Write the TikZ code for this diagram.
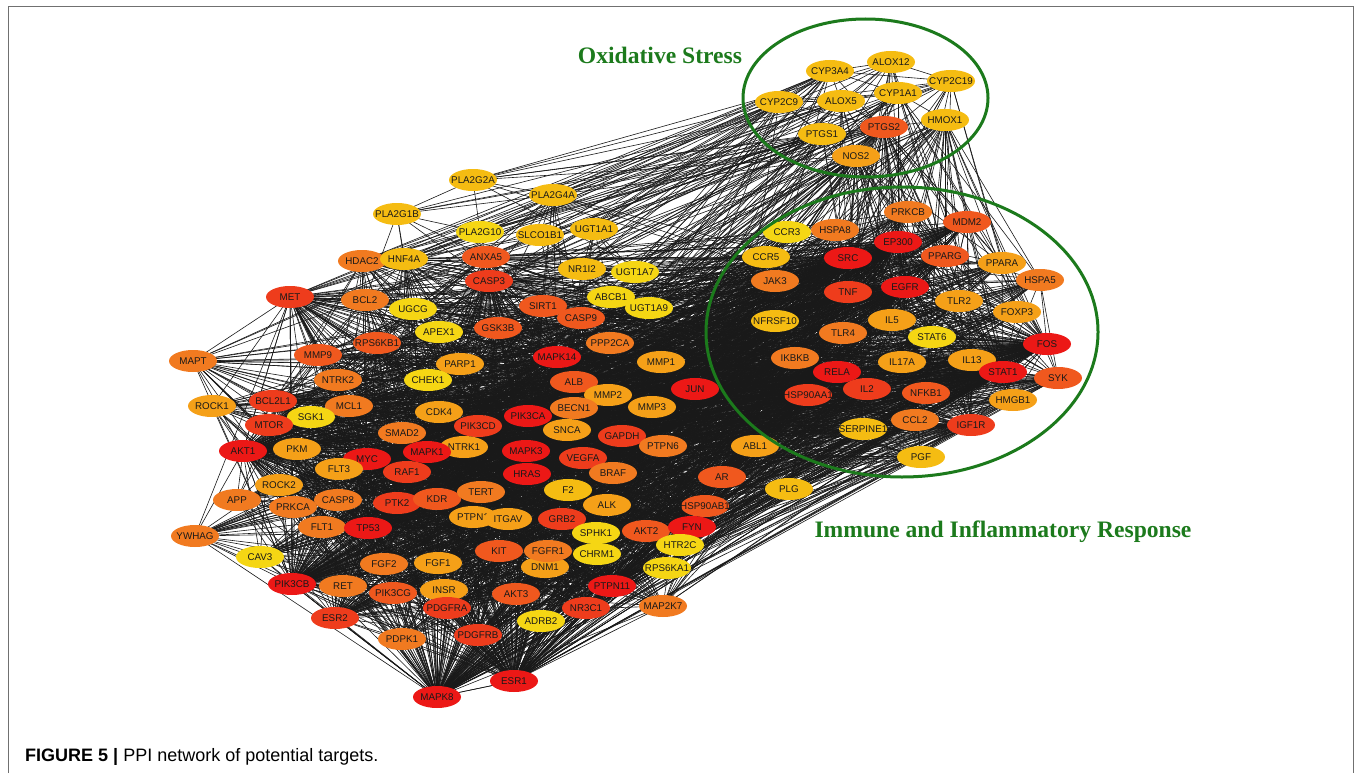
\documentclass[tikz,border=0pt]{standalone}
\usepackage{fontspec}
\setmainfont{Liberation Sans}
\newfontfamily\titlefont{Liberation Serif}
\usetikzlibrary{shapes.geometric}
\pgfdeclarelayer{background}
\pgfsetlayers{background,main}
\definecolor{cA}{RGB}{236,24,22}
\definecolor{cB}{RGB}{238,60,28}
\definecolor{cC}{RGB}{240,88,30}
\definecolor{cD}{RGB}{241,122,32}
\definecolor{cE}{RGB}{245,160,24}
\definecolor{cF}{RGB}{245,188,18}
\definecolor{cG}{RGB}{245,214,20}
\definecolor{grn}{RGB}{28,122,28}
\definecolor{frm}{RGB}{112,112,112}
\newcommand\genenode[3]{\node[gene,fill=#3,label={[gl]center:#1}] (#1) at (#2) {};}
\def\hubs{AKT1,MAPK1,MYC,TP53,MAPK3,HRAS,MAPK14,JUN,PIK3CA,PIK3CB,FYN,PTPN11,ESR1,MAPK8,SRC,EP300,EGFR,FOS,RELA,STAT1}
\def\minihubs{CASP3,MET,BCL2L1,MTOR,PIK3CD,GAPDH,VEGFA,RAF1,PTK2,GRB2,PDGFRA,NR3C1,ESR2,PDGFRB,TNF,IL2,HSP90AA1,IGF1R}
\def\midhubs{ANXA5,GSK3B,RPS6KB1,MMP9,SIRT1,CASP9,ALB,AR,KDR,HSP90AB1,AKT2,KIT,PIK3CG,AKT3,MDM2,PPARG,SYK,NFKB1}
\def\mainlist{HDAC2,HNF4A,ANXA5,CASP3,MET,BCL2,UGCG,SIRT1,APEX1,GSK3B,CASP9,RPS6KB1,PPP2CA,MAPT,MMP9,PARP1,MAPK14,MMP1,NTRK2,CHEK1,ALB,JUN,ROCK1,BCL2L1,SGK1,MCL1,CDK4,MMP2,MMP3,BECN1,MTOR,PIK3CD,PIK3CA,SMAD2,AKT1,PKM,NTRK1,MAPK1,MYC,MAPK3,SNCA,GAPDH,PTPN6,ABL1,VEGFA,FLT3,RAF1,HRAS,BRAF,AR,ROCK2,APP,PRKCA,CASP8,PTK2,KDR,TERT,F2,PLG,ALK,HSP90AB1,YWHAG,FLT1,TP53,PTPN1,ITGAV,GRB2,AKT2,FYN,SPHK1,HTR2C,CAV3,KIT,FGFR1,CHRM1,FGF2,FGF1,DNM1,RPS6KA1,PIK3CB,RET,PIK3CG,INSR,PTPN11,AKT3,PDGFRA,NR3C1,MAP2K7,ESR2,ADRB2,PDPK1,PDGFRB,ESR1,MAPK8,PRKCB,MDM2,CCR3,HSPA8,EP300,CCR5,SRC,PPARG,PPARA,JAK3,TNF,EGFR,HSPA5,TLR2,FOXP3,NFRSF10,IL5,TLR4,STAT6,FOS,IKBKB,IL17A,IL13,RELA,STAT1,SYK,IL2,HSP90AA1,NFKB1,HMGB1,CCL2,SERPINE1,IGF1R,PGF}
\begin{document}
\begin{tikzpicture}[x=1pt,y=-1pt,
  gene/.style={ellipse,minimum width=48pt,minimum height=22pt,inner sep=0pt,draw=none},
  gl/.style={font=\fontsize{9.8}{10}\selectfont,text=black!90,inner sep=0pt},
  edge/.style={draw=black!90,line width=0.6pt},
  group/.style={draw=grn,line width=3pt},
  grouplabel/.style={text=grn,font=\titlefont\bfseries\fontsize{23.6}{24}\selectfont,anchor=base,inner sep=0pt},
  frame/.style={draw=frm,line width=1.6pt}]
\useasboundingbox (0,0) rectangle (1356,773);
\draw[frame] (8.5,773) -- (8.5,6.5) -- (1353.5,6.5) -- (1353.5,773);
% ---------- nodes ----------
% oxidative
\genenode{CYP3A4}{830,71}{cF}
\genenode{ALOX12}{891,62}{cF}
\genenode{CYP2C19}{951,81}{cF}
\genenode{CYP2C9}{779,102}{cF}
\genenode{ALOX5}{841,101}{cF}
\genenode{CYP1A1}{898,93}{cF}
\genenode{HMOX1}{945,120}{cF}
\genenode{PTGS1}{822,134}{cF}
\genenode{PTGS2}{884,127}{cC}
\genenode{NOS2}{856,156}{cE}
% top and left
\genenode{PLA2G2A}{473,180}{cF}
\genenode{PLA2G4A}{553,195}{cF}
\genenode{PLA2G1B}{397,214}{cF}
\genenode{PLA2G10}{480,232}{cG}
\genenode{SLCO1B1}{540,235}{cF}
\genenode{UGT1A1}{594,229}{cF}
\genenode{HDAC2}{362,261}{cD}
\genenode{HNF4A}{404,259}{cF}
\genenode{ANXA5}{486,257}{cC}
\genenode{NR1I2}{582,269}{cF}
\genenode{UGT1A7}{635,272}{cG}
\genenode{CASP3}{489,281}{cB}
\genenode{MET}{290,297}{cB}
\genenode{BCL2}{365,300}{cD}
\genenode{UGCG}{413,309}{cG}
\genenode{ABCB1}{611,297}{cG}
\genenode{UGT1A9}{649,308}{cG}
\genenode{SIRT1}{543,306}{cC}
\genenode{APEX1}{439,332}{cG}
\genenode{GSK3B}{498,328}{cC}
\genenode{CASP9}{581,318}{cC}
\genenode{RPS6KB1}{377,343}{cC}
\genenode{PPP2CA}{610,343}{cD}
\genenode{MAPT}{193,361}{cD}
\genenode{MMP9}{318,355}{cC}
\genenode{PARP1}{460,364}{cE}
\genenode{MAPK14}{557,357}{cA}
\genenode{MMP1}{661,362}{cE}
\genenode{NTRK2}{338,380}{cD}
\genenode{CHEK1}{428,380}{cG}
\genenode{ALB}{574,382}{cC}
\genenode{JUN}{695,389}{cA}
\genenode{ROCK1}{212,406}{cE}
\genenode{BCL2L1}{273,401}{cB}
\genenode{MCL1}{349,406}{cD}
\genenode{SGK1}{311,417}{cG}
\genenode{CDK4}{439,412}{cE}
\genenode{MMP2}{608,395}{cE}
\genenode{MMP3}{652,407}{cE}
\genenode{BECN1}{574,408}{cD}
\genenode{MTOR}{269,425}{cB}
\genenode{PIK3CD}{478,426}{cB}
\genenode{PIK3CA}{528,416}{cA}
\genenode{SMAD2}{402,433}{cD}
\genenode{AKT1}{243,451}{cA}
\genenode{PKM}{297,449}{cE}
\genenode{NTRK1}{464,447}{cE}
\genenode{MAPK1}{427,452}{cA}
\genenode{MYC}{367,459}{cA}
\genenode{MAPK3}{526,451}{cA}
\genenode{SNCA}{567,430}{cE}
\genenode{GAPDH}{622,436}{cB}
\genenode{PTPN6}{663,446}{cD}
\genenode{ABL1}{755,446}{cE}
\genenode{VEGFA}{583,458}{cB}
\genenode{FLT3}{339,469}{cE}
\genenode{RAF1}{407,472}{cB}
\genenode{HRAS}{527,474}{cA}
\genenode{BRAF}{613,473}{cD}
\genenode{AR}{722,477}{cC}
\genenode{ROCK2}{279,485}{cE}
\genenode{APP}{237,500}{cD}
\genenode{PRKCA}{293,507}{cD}
\genenode{CASP8}{338,500}{cD}
\genenode{PTK2}{397,503}{cB}
\genenode{KDR}{437,499}{cC}
\genenode{TERT}{481,492}{cD}
\genenode{F2}{568,490}{cF}
\genenode{PLG}{789,489}{cF}
\genenode{ALK}{607,505}{cE}
\genenode{HSP90AB1}{705,506}{cC}
\genenode{YWHAG}{195,536}{cD}
\genenode{FLT1}{322,527}{cD}
\genenode{TP53}{368,528}{cA}
\genenode{PTPN1}{473,517}{cE}
\genenode{ITGAV}{508,519}{cE}
\genenode{GRB2}{562,519}{cB}
\genenode{AKT2}{646,531}{cC}
\genenode{FYN}{692,527}{cA}
\genenode{SPHK1}{596,533}{cG}
\genenode{HTR2C}{680,545}{cG}
\genenode{CAV3}{260,557}{cG}
\genenode{KIT}{499,551}{cC}
\genenode{DNM1}{545,567}{cE}
\genenode{FGFR1}{548,551}{cD}
\genenode{CHRM1}{597,554}{cG}
\genenode{FGF2}{384,564}{cD}
\genenode{FGF1}{438,563}{cE}
\genenode{RPS6KA1}{667,568}{cG}
\genenode{PIK3CB}{292,584}{cA}
\genenode{RET}{343,586}{cD}
\genenode{PIK3CG}{393,593}{cC}
\genenode{INSR}{444,590}{cE}
\genenode{PTPN11}{612,586}{cA}
\genenode{AKT3}{516,594}{cC}
\genenode{PDGFRA}{447,608}{cB}
\genenode{NR3C1}{586,608}{cB}
\genenode{MAP2K7}{663,606}{cD}
\genenode{ESR2}{335,618}{cB}
\genenode{ADRB2}{541,621}{cG}
\genenode{PDPK1}{402,639}{cD}
\genenode{PDGFRB}{478,635}{cB}
\genenode{ESR1}{514,681}{cA}
\genenode{MAPK8}{437,697}{cA}
% immune
\genenode{PRKCB}{908,212}{cD}
\genenode{MDM2}{967,222}{cC}
\genenode{CCR3}{787,232}{cG}
\genenode{HSPA8}{835,230}{cD}
\genenode{EP300}{898,242}{cA}
\genenode{CCR5}{766,257}{cF}
\genenode{SRC}{848,258}{cA}
\genenode{PPARG}{945,256}{cC}
\genenode{PPARA}{1002,263}{cE}
\genenode{JAK3}{775,281}{cD}
\genenode{TNF}{848,292}{cB}
\genenode{EGFR}{905,287}{cA}
\genenode{HSPA5}{1040,280}{cD}
\genenode{TLR2}{959,301}{cE}
\genenode{FOXP3}{1017,312}{cE}
\genenode{NFRSF10}{775,321}{cF}
\genenode{IL5}{892,320}{cE}
\genenode{TLR4}{843,333}{cD}
\genenode{STAT6}{932,337}{cG}
\genenode{FOS}{1047,344}{cA}
\genenode{IKBKB}{795,358}{cD}
\genenode{IL17A}{902,362}{cE}
\genenode{IL13}{972,360}{cE}
\genenode{RELA}{837,372}{cA}
\genenode{STAT1}{1003,372}{cA}
\genenode{SYK}{1058,378}{cC}
\genenode{IL2}{867,389}{cB}
\genenode{HSP90AA1}{808,395}{cB}
\genenode{NFKB1}{926,393}{cC}
\genenode{HMGB1}{1013,400}{cE}
\genenode{CCL2}{915,420}{cD}
\genenode{SERPINE1}{863,429}{cF}
\genenode{IGF1R}{971,425}{cB}
\genenode{PGF}{921,457}{cF}
% ---------- groups and labels ----------
\draw[group] (865.5,98) ellipse [x radius=122.5pt, y radius=79pt];
\draw[group] (902,332) ellipse [x radius=196pt, y radius=145pt];
\node[grouplabel] (oxlabel) at (660,64) {Oxidative Stress};
\node[grouplabel] (imlabel) at (1003,537) {Immune and Inflammatory Response};
\node[anchor=base west,inner sep=0pt,font=\fontsize{18}{18}\selectfont] (caption) at (25,761.5) {\textbf{FIGURE 5 |} PPI network of potential targets.};
% ---------- edges ----------
\begin{pgfonlayer}{background}
\foreach \a in \hubs {\foreach \b in \mainlist {\draw[edge] (\a.center) -- (\b.center);}}
\foreach \a [count=\i] in \minihubs {\foreach \b [count=\j] in \mainlist {%
  \pgfmathtruncatemacro\r{mod(\i*7+\j*5,3)}\ifnum\r=0 \draw[edge] (\a.center) -- (\b.center);\fi}}
\foreach \a [count=\i] in \midhubs {\foreach \b [count=\j] in \mainlist {%
  \pgfmathtruncatemacro\r{mod(\i*5+\j*7,6)}\ifnum\r=0 \draw[edge] (\a.center) -- (\b.center);\fi}}
\foreach \a/\b in {PLA2G2A/PLA2G1B,PLA2G2A/PLA2G10,PLA2G2A/PLA2G4A,PLA2G2A/PTGS2,PLA2G2A/PTGS1,PLA2G2A/ALOX5,PLA2G2A/ALOX12,PLA2G2A/CYP2C9,PLA2G2A/TNF,PLA2G2A/NOS2,PLA2G2A/IL2,
  PLA2G1B/PLA2G10,PLA2G1B/HNF4A,PLA2G1B/ANXA5,PLA2G1B/PTGS2,PLA2G1B/PTGS1,PLA2G1B/ALOX5,PLA2G1B/PLA2G4A,PLA2G1B/CASP3,PLA2G1B/UGCG,PLA2G1B/BCL2,
  PLA2G10/PLA2G4A,PLA2G10/HNF4A,PLA2G10/PTGS2,PLA2G10/PTGS1,PLA2G10/ALOX5,PLA2G10/ANXA5,
  PLA2G4A/ANXA5,PLA2G4A/MAPK1,PLA2G4A/MAPK3,PLA2G4A/MAPK14,PLA2G4A/PTGS2,PLA2G4A/PTGS1,PLA2G4A/ALOX5,PLA2G4A/ALOX12,PLA2G4A/CASP3,PLA2G4A/NOS2,PLA2G4A/TNF,PLA2G4A/CASP9,PLA2G4A/SIRT1,PLA2G4A/SLCO1B1,PLA2G4A/ALB,PLA2G4A/AKT1,PLA2G4A/EGFR,
  SLCO1B1/UGT1A1,SLCO1B1/ABCB1,SLCO1B1/NR1I2,SLCO1B1/CYP3A4,SLCO1B1/CYP2C9,SLCO1B1/HNF4A,SLCO1B1/ALB,SLCO1B1/UGT1A9,SLCO1B1/CYP2C19,
  UGT1A1/UGT1A7,UGT1A1/UGT1A9,UGT1A1/NR1I2,UGT1A1/ABCB1,UGT1A1/CYP3A4,UGT1A1/CYP2C9,UGT1A1/CYP1A1,UGT1A1/HNF4A,UGT1A1/ALB,UGT1A1/CYP2C19,UGT1A1/ESR1,
  UGT1A7/UGT1A9,UGT1A7/CYP1A1,UGT1A7/CYP3A4,UGT1A7/NR1I2,UGT1A7/HNF4A,UGT1A7/ALB,
  UGT1A9/NR1I2,UGT1A9/CYP3A4,UGT1A9/CYP2C9,UGT1A9/CYP1A1,UGT1A9/ABCB1,UGT1A9/HNF4A,
  NR1I2/ABCB1,NR1I2/CYP3A4,NR1I2/CYP2C9,NR1I2/CYP2C19,NR1I2/CYP1A1,NR1I2/HNF4A,NR1I2/PPARA,NR1I2/PPARG,NR1I2/ALB,NR1I2/ESR1,NR1I2/AR,NR1I2/NR3C1,NR1I2/EP300,
  ABCB1/CYP3A4,ABCB1/CYP2C9,ABCB1/HNF4A,ABCB1/ALB,ABCB1/TP53,ABCB1/AKT1,ABCB1/ESR1,ABCB1/MYC,ABCB1/JUN,ABCB1/EGFR,ABCB1/NR3C1,
  CYP3A4/CYP2C9,CYP3A4/CYP2C19,CYP3A4/CYP1A1,CYP2C9/CYP2C19,CYP2C9/CYP1A1,CYP2C19/CYP1A1,ALOX12/ALOX5,ALOX12/PTGS2,ALOX12/PTGS1,ALOX12/CYP2C19,ALOX12/CYP3A4,
  ALOX5/PTGS2,ALOX5/PTGS1,ALOX5/CYP1A1,ALOX5/NOS2,PTGS1/PTGS2,PTGS2/NOS2,PTGS2/HMOX1,HMOX1/NOS2,CYP1A1/PTGS2,CYP1A1/HMOX1,CYP2C9/PTGS1,CYP2C9/ALOX5,CYP3A4/ALOX5,CYP2C9/PTGS2,CYP2C19/ALOX5,ALOX12/CYP1A1}
  {\draw[edge] (\a.center) -- (\b.center);}
\foreach \b in {AKT1,MAPK1,MAPK3,MAPK14,JUN,TP53,MYC,EGFR,SRC,FOS,RELA,STAT1,EP300,TNF,IL2,NFKB1,PPARG,CASP3,VEGFA,ESR1,MAPK8,HRAS,PIK3CA,IL5,IL13,IL17A,TLR4,TLR2,CCL2,HMGB1,IKBKB,MMP9,MMP2,GAPDH,ALB,HSP90AA1,CASP8,BCL2,MET,HDAC2,SIRT1,PPARA,PGF,SERPINE1,IGF1R,ANXA5,PRKCB,MDM2}
  {\draw[edge] (PTGS2.center) -- (\b.center);}
\foreach \b in {AKT1,MAPK1,MAPK3,MAPK14,JUN,TP53,EGFR,SRC,FOS,RELA,STAT1,TNF,IL2,NFKB1,PPARG,CASP3,VEGFA,ESR1,HSP90AA1,HSP90AB1,ALB,GAPDH,TLR4,TLR2,CCL2,HMGB1,IKBKB,MMP9,IL5,IL13,STAT6,SERPINE1,KDR,CAV3,PKM,SIRT1,JAK3,CCR5}
  {\draw[edge] (NOS2.center) -- (\b.center);}
\foreach \b in {AKT1,MAPK1,MAPK3,MAPK14,JUN,TP53,TNF,IL2,NFKB1,RELA,STAT1,FOS,EGFR,SRC,PPARG,HSPA5,HMGB1,FOXP3,IL13,TLR4,CCL2,VEGFA,SIRT1,ALB,GAPDH,MAPK8,PGF,IGF1R,SYK,MDM2}
  {\draw[edge] (HMOX1.center) -- (\b.center);}
\foreach \b in {AKT1,MAPK1,MAPK3,TP53,JUN,EGFR,CASP3,ALB,ANXA5,HDAC2,HNF4A,MET,BCL2,MTOR,MMP9,PPARG,ESR1,GAPDH,VEGFA,IL2,TNF,MAPT}
  {\draw[edge] (PTGS1.center) -- (\b.center);}
\foreach \b in {AKT1,MAPK1,MAPK3,MAPK14,TNF,IL2,NFKB1,PPARG,CASP3,ALB,ANXA5,HDAC2,BCL2,MET,RELA}
  {\draw[edge] (ALOX5.center) -- (\b.center);}
\foreach \b in {ESR1,AR,AKT1,MAPK1,JUN,FOS,TP53,EGFR,PPARA,PPARG,ALB,HNF4A,EP300,STAT1,MYC,HSPA5}
  {\draw[edge] (CYP1A1.center) -- (\b.center);}
\foreach \b in {HNF4A,ALB,ESR1,AR,PPARA,HDAC2,NR3C1,AKT1,BCL2,CASP3,GSK3B,MAPT,MET}
  {\draw[edge] (CYP2C9.center) -- (\b.center);}
\foreach \b in {HNF4A,ALB,ESR1,AR,NR3C1,PPARA,HDAC2,MET,AKT1,TP53,MAPT,BCL2}
  {\draw[edge] (CYP3A4.center) -- (\b.center);}
\foreach \b in {HNF4A,ALB,ESR1,PPARA,AR,PPARG,SRC,EGFR,TNF,FOXP3}
  {\draw[edge] (CYP2C19.center) -- (\b.center);}
\foreach \b in {TNF,IL2,PPARG,EGFR,SRC,MAPK1,CASP3,JUN,STAT1}
  {\draw[edge] (ALOX12.center) -- (\b.center);}
\end{pgfonlayer}
\end{tikzpicture}
\end{document}
